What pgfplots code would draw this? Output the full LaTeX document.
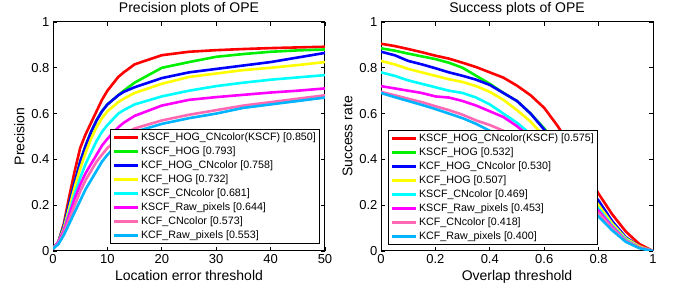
\documentclass[border=0pt]{standalone}
\usepackage{fontspec}
\setmainfont{Liberation Sans}
\usepackage{pgfplots}
\usepackage{pgfplotstable}
\pgfplotsset{compat=1.18}
\definecolor{cR}{RGB}{255,0,0}
\definecolor{cG}{RGB}{0,240,0}
\definecolor{cB}{RGB}{0,0,255}
\definecolor{cY}{RGB}{255,255,0}
\definecolor{cC}{RGB}{0,255,255}
\definecolor{cM}{RGB}{255,0,255}
\definecolor{cP}{RGB}{255,105,180}
\definecolor{cL}{RGB}{0,180,255}
\pgfplotstableread{
x    r     g     b     y     c     m     p     l
0    0.01  0.01  0.01  0.01  0.01  0.01  0.01  0.01
1    0.04  0.04  0.04  0.04  0.04  0.04  0.035 0.03
2    0.12  0.11  0.11  0.10  0.09  0.09  0.08  0.07
3    0.24  0.21  0.21  0.19  0.17  0.16  0.14  0.12
4    0.35  0.30  0.30  0.28  0.25  0.23  0.20  0.17
5    0.45  0.39  0.39  0.36  0.32  0.29  0.26  0.22
6    0.51  0.46  0.46  0.43  0.38  0.34  0.31  0.27
7    0.56  0.52  0.52  0.49  0.43  0.38  0.35  0.31
8    0.61  0.57  0.57  0.54  0.48  0.42  0.39  0.35
9    0.66  0.61  0.61  0.58  0.52  0.46  0.42  0.39
10   0.70  0.64  0.64  0.61  0.55  0.49  0.45  0.42
12   0.76  0.68  0.68  0.65  0.60  0.54  0.49  0.47
13   0.78  0.70  0.695 0.665 0.615 0.56  0.51  0.49
15   0.815 0.735 0.715 0.69  0.64  0.59  0.535 0.52
20   0.855 0.80  0.755 0.73  0.675 0.635 0.57  0.555
25   0.87  0.825 0.78  0.76  0.70  0.66  0.595 0.58
30   0.877 0.848 0.795 0.775 0.72  0.672 0.615 0.60
35   0.882 0.86  0.81  0.79  0.735 0.682 0.635 0.625
40   0.886 0.87  0.825 0.80  0.748 0.692 0.65  0.64
45   0.889 0.876 0.845 0.812 0.758 0.70  0.665 0.655
50   0.892 0.88  0.865 0.825 0.768 0.71  0.68  0.67
}\prec
\pgfplotstableread{
x    r     g     b     y     c     m     p     l
0    0.905 0.885 0.87  0.83  0.78  0.72  0.695 0.69
0.05 0.895 0.875 0.855 0.815 0.765 0.71  0.68  0.672
0.10 0.882 0.862 0.83  0.795 0.745 0.70  0.665 0.655
0.15 0.868 0.85  0.815 0.78  0.73  0.69  0.65  0.638
0.20 0.853 0.838 0.798 0.765 0.715 0.675 0.632 0.62
0.25 0.84  0.822 0.78  0.75  0.70  0.67  0.615 0.60
0.30 0.822 0.80  0.765 0.738 0.69  0.655 0.595 0.58
0.35 0.803 0.765 0.748 0.72  0.67  0.635 0.57  0.555
0.40 0.78  0.73  0.725 0.695 0.64  0.61  0.55  0.525
0.45 0.757 0.69  0.69  0.66  0.60  0.585 0.525 0.49
0.50 0.722 0.655 0.655 0.615 0.56  0.545 0.49  0.455
0.55 0.68  0.60  0.60  0.565 0.51  0.495 0.45  0.415
0.60 0.625 0.535 0.53  0.50  0.45  0.435 0.40  0.37
0.65 0.545 0.46  0.45  0.43  0.39  0.37  0.34  0.315
0.70 0.45  0.38  0.37  0.35  0.32  0.30  0.28  0.26
0.75 0.35  0.30  0.29  0.28  0.25  0.24  0.22  0.205
0.80 0.25  0.21  0.22  0.20  0.185 0.175 0.165 0.15
0.85 0.16  0.12  0.13  0.12  0.11  0.105 0.10  0.09
0.90 0.085 0.05  0.06  0.055 0.05  0.045 0.045 0.04
0.95 0.03  0.015 0.02  0.02  0.015 0.015 0.015 0.012
1.00 0.0   0.0   0.0   0.0   0.0   0.0   0.0   0.0
}\succ
\pgfplotsset{
  myaxis/.style={
    scale only axis, width=272pt, height=229pt,
    anchor=south west,
    ymin=0, ymax=1,
    ytick={0,0.2,0.4,0.6,0.8,1},
    tick align=inside, axis line style={line width=1pt},
    major tick length=4pt,
    tick style={black, line width=0.7pt},
    /pgf/number format/assume math mode=true,
    tick label style={font=\fontsize{13}{15}\selectfont},
    label style={font=\fontsize{14}{16}\selectfont},
    title style={font=\fontsize{14}{16}\selectfont, yshift=-3pt},
    every axis plot/.append style={line width=2.6pt, no markers},
    legend cell align=left,
    legend image code/.code={\draw[##1] (0cm,0cm) -- (0.85cm,0cm);},
    legend style={font=\fontsize{10.7}{11}\selectfont, draw=black, line width=1.3pt,
      inner sep=1.5pt, row sep=0.7pt, anchor=south west},
  }
}
\begin{document}
\begin{tikzpicture}
\path[use as bounding box] (0,0) rectangle (677pt,291pt);
\begin{axis}[myaxis, at={(53pt,40pt)},
  xmin=0, xmax=50, xtick={0,10,20,30,40,50},
  title={Precision plots of OPE},
  xlabel={Location error threshold}, ylabel={Precision},
  legend style={at={(0.21,0.03)}}]
\addplot[cR] table[x=x,y=r]{\prec};
\addplot[cG] table[x=x,y=g]{\prec};
\addplot[cB] table[x=x,y=b]{\prec};
\addplot[cY] table[x=x,y=y]{\prec};
\addplot[cC] table[x=x,y=c]{\prec};
\addplot[cM] table[x=x,y=m]{\prec};
\addplot[cP] table[x=x,y=p]{\prec};
\addplot[cL] table[x=x,y=l]{\prec};
\legend{KSCF\_HOG\_CNcolor(KSCF) [0.850],KSCF\_HOG [0.793],KCF\_HOG\_CNcolor [0.758],KCF\_HOG [0.732],KSCF\_CNcolor [0.681],KSCF\_Raw\_pixels [0.644],KCF\_CNcolor [0.573],KCF\_Raw\_pixels [0.553]}
\end{axis}
\begin{axis}[myaxis, at={(381pt,40pt)},
  xmin=0, xmax=1, xtick={0,0.2,0.4,0.6,0.8,1},
  title={Success plots of OPE},
  xlabel={Overlap threshold}, ylabel={Success rate},
  legend style={at={(0.026,0.026)}}]
\addplot[cR] table[x=x,y=r]{\succ};
\addplot[cG] table[x=x,y=g]{\succ};
\addplot[cB] table[x=x,y=b]{\succ};
\addplot[cY] table[x=x,y=y]{\succ};
\addplot[cC] table[x=x,y=c]{\succ};
\addplot[cM] table[x=x,y=m]{\succ};
\addplot[cP] table[x=x,y=p]{\succ};
\addplot[cL] table[x=x,y=l]{\succ};
\legend{KSCF\_HOG\_CNcolor(KSCF) [0.575],KSCF\_HOG [0.532],KCF\_HOG\_CNcolor [0.530],KCF\_HOG [0.507],KSCF\_CNcolor [0.469],KSCF\_Raw\_pixels [0.453],KCF\_CNcolor [0.418],KCF\_Raw\_pixels [0.400]}
\end{axis}
\end{tikzpicture}
\end{document}
